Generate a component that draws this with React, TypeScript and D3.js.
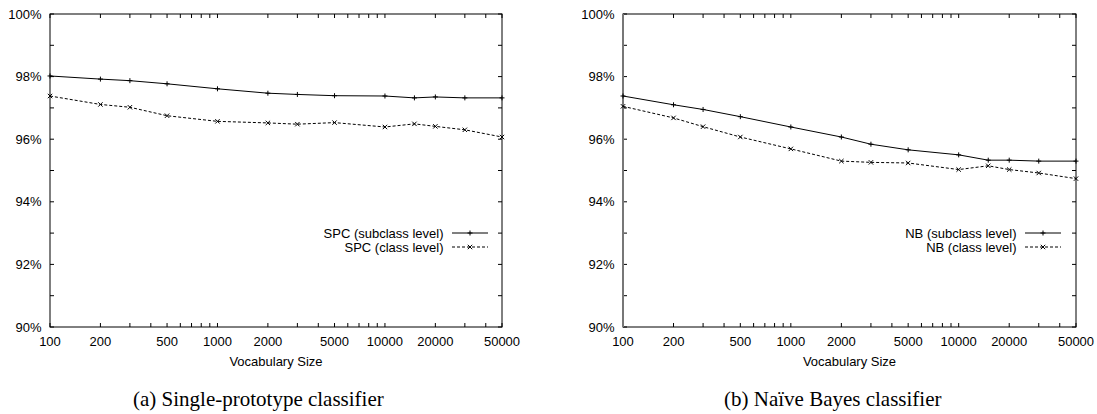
import React from "react";
import * as d3 from "d3";

const vocab = [100, 200, 300, 500, 1000, 2000, 3000, 5000, 10000, 15000, 20000, 30000, 50000];
const spcSubclass = [98.02, 97.92, 97.87, 97.77, 97.61, 97.47, 97.43, 97.39, 97.38, 97.32, 97.35, 97.32, 97.32];
const spcClass = [97.38, 97.11, 97.02, 96.75, 96.57, 96.52, 96.48, 96.53, 96.39, 96.49, 96.41, 96.3, 96.07];
const nbSubclass = [97.38, 97.1, 96.95, 96.72, 96.39, 96.07, 95.84, 95.66, 95.5, 95.33, 95.33, 95.3, 95.3];
const nbClass = [97.05, 96.68, 96.4, 96.07, 95.69, 95.3, 95.26, 95.24, 95.03, 95.15, 95.03, 94.92, 94.74];
const xLabelTicks = [100, 200, 500, 1000, 2000, 5000, 10000, 20000, 50000];
const yTicks = [90, 91, 92, 93, 94, 95, 96, 97, 98, 99, 100];
const yLabelTicks = [90, 92, 94, 96, 98, 100];

const SANS = "'Liberation Sans', Arial, Helvetica, sans-serif";
const SERIF = "'Liberation Serif', 'Times New Roman', serif";

function minorTicks(): number[] {
  const out: number[] = [];
  for (let d = 100; d <= 10000; d *= 10) {
    for (let m = 1; m <= 9; m++) {
      const v = d * m;
      if (v >= 100 && v <= 50000) out.push(v);
    }
  }
  return out.filter((v) => v <= 50000);
}

type PanelProps = {
  x0: number;
  x1: number;
  sub: number[];
  cls: number[];
  subName: string;
  clsName: string;
  legendTextX: number;
  legendLineX0: number;
  legendLineX1: number;
  caption: string;
  captionX: number;
  leftAxisGray?: boolean;
};

function Panel(p: PanelProps) {
  const top = 14;
  const bottom = 327;
  const x = d3.scaleLog().domain([100, 50000]).range([p.x0, p.x1]);
  const y = d3.scaleLinear().domain([90, 100]).range([bottom, top]);
  const line = d3
    .line<number>()
    .x((_, i) => x(vocab[i]))
    .y((v) => y(v));
  const tl = 4;
  const ticks = minorTicks();
  const plus = (cx: number, cy: number, k: string) => (
    <path key={k} d={`M${cx - 2.5},${cy}H${cx + 2.5}M${cx},${cy - 2.5}V${cy + 2.5}`} stroke="#000" strokeWidth={1} />
  );
  const cross = (cx: number, cy: number, k: string) => (
    <path key={k} d={`M${cx - 2.2},${cy - 2.2}L${cx + 2.2},${cy + 2.2}M${cx - 2.2},${cy + 2.2}L${cx + 2.2},${cy - 2.2}`} stroke="#000" strokeWidth={1} />
  );
  const ly1 = 233;
  const ly2 = 247;
  const lmid = (p.legendLineX0 + p.legendLineX1) / 2;
  return (
    <g>
      {/* ticks */}
      {ticks.map((t) => (
        <g key={"xt" + t}>
          <line x1={x(t)} x2={x(t)} y1={bottom} y2={bottom - tl} stroke="#000" />
          <line x1={x(t)} x2={x(t)} y1={top} y2={top + tl} stroke="#000" />
        </g>
      ))}
      {yTicks.map((t) => (
        <g key={"yt" + t}>
          <line x1={p.x0} x2={p.x0 + tl} y1={y(t)} y2={y(t)} stroke="#000" />
          <line x1={p.x1} x2={p.x1 - tl} y1={y(t)} y2={y(t)} stroke="#000" />
        </g>
      ))}
      {/* frame */}
      <rect x={p.x0} y={top} width={p.x1 - p.x0} height={bottom - top} fill="none" stroke="#000" strokeWidth={1} />
      {p.leftAxisGray && <line x1={p.x0} x2={p.x0} y1={top} y2={bottom} stroke="#777" strokeWidth={2} />}
      {/* labels */}
      {xLabelTicks.map((t) => (
        <text key={"xl" + t} x={x(t)} y={346} textAnchor="middle" fontFamily={SANS} fontSize={13}>
          {t}
        </text>
      ))}
      {yLabelTicks.map((t) => (
        <text key={"yl" + t} x={p.x0 - 8.5} y={y(t) + 4.5} textAnchor="end" fontFamily={SANS} fontSize={13}>
          {t}%
        </text>
      ))}
      <text x={(p.x0 + p.x1) / 2} y={366} textAnchor="middle" fontFamily={SANS} fontSize={13}>
        Vocabulary Size
      </text>
      {/* series */}
      <path d={line(p.sub) || ""} fill="none" stroke="#000" strokeWidth={1} />
      <path d={line(p.cls) || ""} fill="none" stroke="#000" strokeWidth={1} strokeDasharray="3,2" />
      {p.sub.map((v, i) => plus(x(vocab[i]), y(v), "p" + i))}
      {p.cls.map((v, i) => cross(x(vocab[i]), y(v), "c" + i))}
      {/* legend */}
      <text x={p.legendTextX} y={ly1 + 4.5} textAnchor="end" fontFamily={SANS} fontSize={13}>
        {p.subName}
      </text>
      <text x={p.legendTextX} y={ly2 + 4.5} textAnchor="end" fontFamily={SANS} fontSize={13}>
        {p.clsName}
      </text>
      <line x1={p.legendLineX0} x2={p.legendLineX1} y1={ly1} y2={ly1} stroke="#000" />
      {plus(lmid, ly1, "lp")}
      <line x1={p.legendLineX0} x2={p.legendLineX1} y1={ly2} y2={ly2} stroke="#000" strokeDasharray="3,2" />
      {cross(lmid, ly2, "lc")}
      {/* caption */}
      <text x={p.captionX} y={406} fontFamily={SERIF} fontSize={21}>
        {p.caption}
      </text>
    </g>
  );
}

export default function App() {
  return (
    <svg width={1097} height={414} style={{ position: "absolute", left: 0, top: 0, background: "#fff" }}>
      <rect width={1097} height={414} fill="#fff" />
      <Panel
        x0={50}
        x1={502}
        sub={spcSubclass}
        cls={spcClass}
        subName="SPC (subclass level)"
        clsName="SPC (class level)"
        legendTextX={443.5}
        legendLineX0={452}
        legendLineX1={488}
        caption="(a) Single-prototype classifier"
        captionX={133}
      />
      <Panel
        x0={623}
        x1={1076}
        sub={nbSubclass}
        cls={nbClass}
        subName="NB (subclass level)"
        clsName="NB (class level)"
        legendTextX={1016.5}
        legendLineX0={1025}
        legendLineX1={1061}
        caption="(b) Naïve Bayes classifier"
        captionX={724}
        leftAxisGray
      />
    </svg>
  );
}
